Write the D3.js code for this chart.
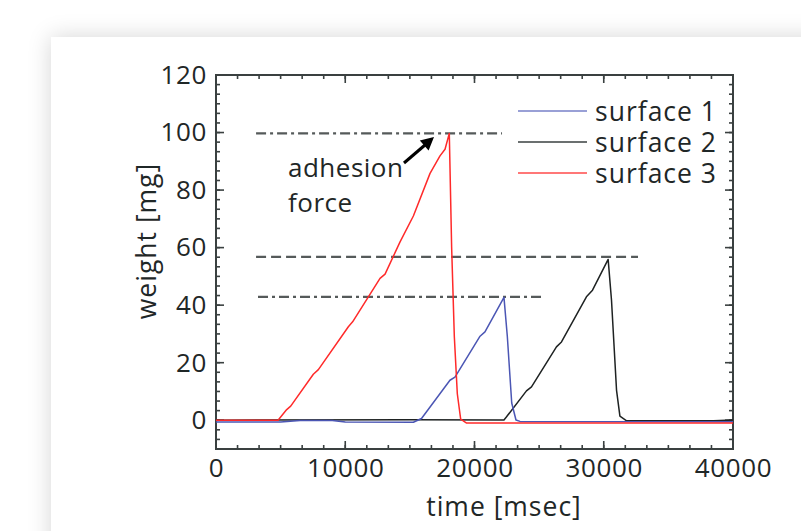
<!DOCTYPE html>
<html>
<head>
<meta charset="utf-8">
<script src="https://cdn.jsdelivr.net/npm/d3@7"></script>
<style>
  html, body { margin: 0; padding: 0; background: #fff; width: 801px; height: 531px; overflow: hidden; }
  #card { position: absolute; left: 51px; top: 37px; width: 800px; height: 560px; background: #fff;
          box-shadow: 0 0 22px rgba(0,0,0,0.17); }
  svg { position: absolute; left: 0; top: 0; }
  text { font-family: "Open Sans", "Noto Sans", sans-serif; fill: #1f2727; }
</style>
</head>
<body>
<div id="card"></div>
<svg id="chart" width="801" height="531"></svg>
<script>
// ---- data ----
const xTicks = [0, 10000, 20000, 30000, 40000];
const yTicks = [0, 20, 40, 60, 80, 100, 120];
const seriesNames = ["surface 1", "surface 2", "surface 3"];
const seriesColors = ["#4b56b4", "#1e2222", "#ff2a2a"];
const legendColors = ["#7780c8", "#3a4040", "#ff4a4a"];

const s1Time = [0, 5000, 6500, 9000, 10000, 15270, 15900, 18100, 18490, 20430, 20810, 21450, 22280, 22540, 22880, 23210, 23520, 40000];
const s1Weight = [-0.6, -0.6, -0.1, -0.1, -0.6, -0.7, 0.6, 13.9, 15, 29.2, 30.7, 35.9, 42.7, 29.1, 6, 0.1, -0.4, -0.5];

const s2Time = [0, 15000, 22280, 22480, 24020, 24410, 26340, 26730, 28660, 29130, 30340, 30600, 30990, 31250, 31770, 38500, 40000];
const s2Weight = [0, 0.2, 0.1, 1.2, 10.2, 11.6, 25.5, 27.2, 42.9, 45.2, 55.9, 41.7, 10.4, 1.4, -0.2, -0.2, 0.1];

const s3Time = [0, 4800, 5470, 5780, 7530, 7920, 10240, 10570, 12690, 13080, 14240, 15270, 16560, 17330, 17720, 18050, 18230, 18440, 18670, 18930, 19390, 40000];
const s3Weight = [0, 0, 3.7, 4.9, 16, 17.6, 32.5, 34.2, 49.3, 50.8, 62, 71, 85.8, 91.9, 94.2, 99.7, 60.3, 29, 9.2, 0.4, -1.0, -1.0];

// reference levels (adhesion force lines)
const refLevel = [99.7, 56.8, 42.9];
const refStart = [3100, 3100, 3250];
const refEnd = [22130, 32650, 25220];
const refStyle = ["dashdot", "dash", "dashdot"];

// ---- layout ----
const L = 216, R = 733, T = 75, B = 449;
const svg = d3.select("#chart");
const x = d3.scaleLinear().domain([0, 40000]).range([L, R]);
const y = d3.scaleLinear().domain([-10, 120]).range([B, T]);

const axisColor = "#3a4040";
const minorX = d3.range(0, 40001, 10000 / 6);
const minorY = d3.range(-10, 120.01, 20 / 6);

// ticks
const g = svg.append("g");
function tickLines(vals, isX, len, side) {
  vals.forEach(v => {
    if (isX) {
      const px = x(v);
      if (side === "bottom") g.append("line").attr("x1", px).attr("x2", px).attr("y1", B).attr("y2", B - len);
      else g.append("line").attr("x1", px).attr("x2", px).attr("y1", T).attr("y2", T + len);
    } else {
      const py = y(v);
      if (side === "left") g.append("line").attr("x1", L).attr("x2", L + len).attr("y1", py).attr("y2", py);
      else g.append("line").attr("x1", R).attr("x2", R - len).attr("y1", py).attr("y2", py);
    }
  });
}
tickLines(minorX, true, 4, "bottom");
tickLines(minorX, true, 4, "top");
tickLines(xTicks, true, 8, "bottom");
tickLines(xTicks, true, 8, "top");
tickLines(minorY, false, 4, "left");
tickLines(minorY, false, 4, "right");
tickLines(yTicks, false, 8, "left");
tickLines(yTicks, false, 8, "right");
g.selectAll("line").attr("stroke", axisColor).attr("stroke-width", 1.6);

// axis labels via d3 axes (tick labels only)
const xAxis = d3.axisBottom(x).tickValues(xTicks).tickSize(0).tickPadding(9).tickFormat(d3.format("d"));
const yAxis = d3.axisLeft(y).tickValues(yTicks).tickSize(0).tickPadding(9).tickFormat(d3.format("d"));
const gx = svg.append("g").attr("transform", `translate(0,${B})`).call(xAxis);
const gy = svg.append("g").attr("transform", `translate(${L},0)`).call(yAxis);
[gx, gy].forEach(a => {
  a.select(".domain").remove();
  a.selectAll("text").attr("font-size", 26).attr("letter-spacing", 0.6)
    .attr("font-family", "Open Sans").attr("fill", "#1f2727");
});
gx.selectAll("text").attr("dy", "0.72em");

// frame
svg.append("rect").attr("x", L).attr("y", T).attr("width", R - L).attr("height", B - T)
  .attr("fill", "none").attr("stroke", axisColor).attr("stroke-width", 2);

// reference lines
refLevel.forEach((lv, i) => {
  svg.append("line")
    .attr("x1", x(refStart[i])).attr("x2", x(refEnd[i]))
    .attr("y1", y(lv)).attr("y2", y(lv))
    .attr("stroke", "#555a5a").attr("stroke-width", 2.2)
    .attr("stroke-dasharray", refStyle[i] === "dash" ? "10,5" : "10,4,3,4");
});

// series lines
const line = d3.line().x(d => x(d[0])).y(d => y(d[1]));
const series = [d3.zip(s1Time, s1Weight), d3.zip(s2Time, s2Weight), d3.zip(s3Time, s3Weight)];
[1, 0, 2].forEach(i => {
  svg.append("path").datum(series[i]).attr("d", line)
    .attr("fill", "none").attr("stroke", seriesColors[i]).attr("stroke-width", 1.5)
    .attr("stroke-linejoin", "round");
});

// legend
seriesNames.forEach((n, i) => {
  const ly = 111 + i * 31;
  svg.append("line").attr("x1", 518).attr("x2", 587).attr("y1", ly).attr("y2", ly)
    .attr("stroke", legendColors[i]).attr("stroke-width", 1.6);
  svg.append("text").attr("x", 595).attr("y", ly).attr("dy", "0.36em")
    .attr("font-size", 26.5).attr("letter-spacing", 1).text(n);
});

// annotation
[["adhesion", 168], ["force", 203]].forEach(([t, yy]) => {
  svg.append("text").attr("x", 288).attr("y", yy).attr("dy", "0.36em").attr("font-size", 26)
    .attr("letter-spacing", 0.5).attr("fill", "#2e3434").text(t);
});
svg.append("line").attr("x1", 404).attr("y1", 163).attr("x2", 425).attr("y2", 145)
  .attr("stroke", "#000").attr("stroke-width", 3);
svg.append("path").attr("d", "M434,137 L428.6,150.5 L419.8,140.4 Z").attr("fill", "#000");

// axis titles
svg.append("text").attr("x", 504).attr("y", 506).attr("dy", "0.36em").attr("text-anchor", "middle")
  .attr("font-size", 26.5).attr("letter-spacing", 1).text("time [msec]");
svg.append("text").attr("transform", "translate(146,241) rotate(-90)").attr("dy", "0.36em")
  .attr("text-anchor", "middle").attr("font-size", 26.5).attr("letter-spacing", 1).text("weight [mg]");
</script>
</body>
</html>
